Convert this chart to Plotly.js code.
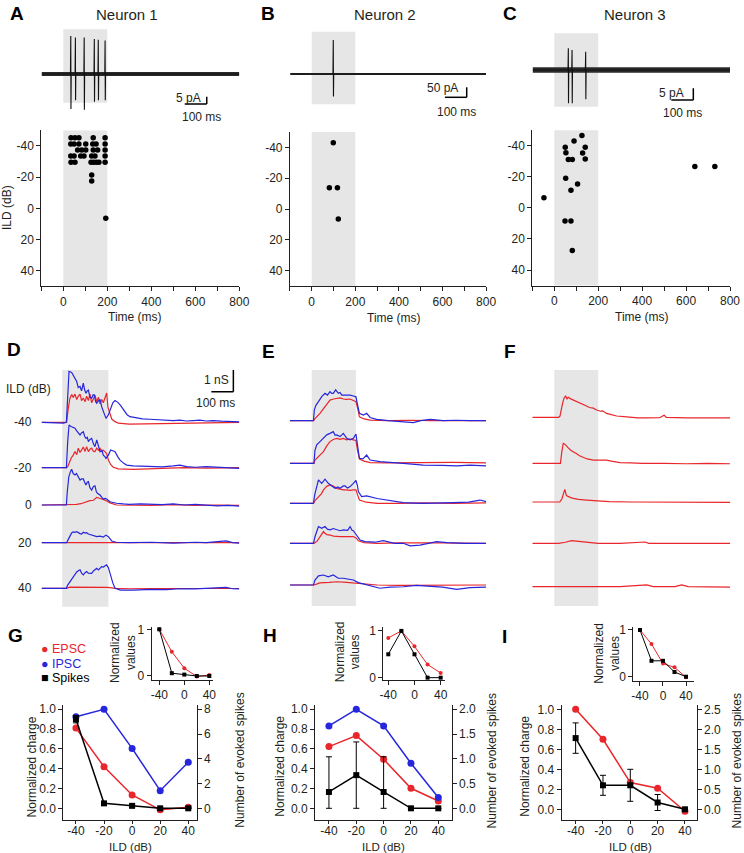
<!DOCTYPE html>
<html><head><meta charset="utf-8">
<script src="https://cdn.plot.ly/plotly-3.0.1.min.js"></script>
<style>html,body{margin:0;padding:0;background:#fff}#chart{width:744px;height:853px}</style>
</head><body><div id="chart"></div>
<script>
// ================= DATA =================
// A-C: spike recordings (ms, pA)
const spikeTimesA = [34, 55, 95, 141, 159, 190];
const spikeUpA    = [26, 25, 25, 24, 23.5, 23];
const spikeDownA  = [24, 18, 24.5, 19, 18, 18];
const spikeTimesB = [99];
const spikeUpB    = [170];
const spikeDownB  = [113];
const spikeTimesC = [64, 81, 143];
const spikeUpC    = [9.3, 8.5, 7.8];
const spikeDownC  = [14.2, 14.2, 12.5];

// Rasters: spike time (ms) and ILD row (dB)
const rasterA_t   = [35,53,71,136,190, 34,49,71,102,134,149,190, 65,84,102,136,156,190, 34,49,79,94,129,144,190, 35,53,126,138,150,162,190, 129, 129, 193];
const rasterA_ild = [-45.3,-45.3,-45.3,-45.3,-45.3, -41.3,-41.3,-41.3,-41.3,-41.3,-41.3,-41.3, -37.4,-37.4,-37.4,-37.4,-37.4,-37.4, -33.6,-33.6,-33.6,-33.6,-33.6,-33.6,-33.6, -29.5,-29.5,-29.5,-29.5,-29.5,-29.5,-29.5, -21.4, -17.6, 6.3];
const rasterB_t   = [99, 81, 118, 122];
const rasterB_ild = [-43, -13.8, -13.8, 6.5];
const rasterC_t   = [-47, 50, 53, 64, 82, 90, 126, 129, 141, 141, 52, 106, 76, 49, 76, 82, 640, 731];
const rasterC_ild = [-6.5, -39.1, -35.5, -31.2, -31.2, -43, -46.6, -35.3, -39.1, -31.4, -19, -15.3, -11.3, 8.5, 8.5, 27.4, -26.7, -26.7];

const stimWindow = [0, 200];           // ms (grey band)
const ildRows = [-40, -20, 0, 20, 40];  // dB, D-F rows

// D: conductance traces [ms, nS]
const D_ipsc_m40 = [[-98,0],[0,-0.04],[14,0],[20,1.6],[26,2.35],[38,2.3],[48,2.1],[55,2.0],[61,1.88],[68,1.6],[76,1.65],[83,1.45],[91,1.8],[97,1.5],[103,1.34],[109,1.45],[114,1.49],[121,1.15],[129,1.11],[135,1.26],[141,1.26],[147,0.95],[152,0.88],[160,1.0],[167,1.03],[175,0.7],[185,0.45],[194,0.18],[205,0.35],[215,0.65],[225,0.9],[235,1.0],[248,0.92],[260,0.78],[275,0.55],[290,0.35],[303,0.26],[330,0.2],[360,0.16],[394,0.14],[430,0.12],[470,0.1],[500,0.08],[530,0.1],[560,0.06],[590,0.08],[620,0.1],[650,0.06],[680,0.08],[720,0.05],[760,0.04],[800,0.02]];
const D_epsc_m40 = [[-98,0],[15,0],[22,0.6],[30,1.1],[38,1.28],[45,1.15],[53,1.3],[61,1.05],[68,1.2],[76,1.3],[83,1.0],[91,1.12],[99,0.95],[106,1.2],[114,1.0],[121,1.3],[129,0.9],[137,1.1],[144,1.25],[152,0.95],[160,1.15],[167,0.85],[175,1.05],[182,0.9],[190,1.2],[197,1.35],[203,0.7],[212,0.35],[220,0.15],[235,0.03],[250,-0.04],[300,-0.08],[400,-0.07],[500,-0.05],[600,-0.03],[700,-0.02],[800,0]];
const D_ipsc_m20 = [[-98,0],[14,0],[20,1.2],[26,1.97],[35,1.9],[45,1.85],[53,1.82],[61,1.7],[68,1.6],[76,1.51],[83,1.6],[91,1.66],[97,1.45],[103,1.35],[109,1.4],[114,1.2],[121,1.3],[129,1.35],[137,1.1],[144,0.97],[152,1.28],[160,0.95],[167,0.74],[175,0.8],[182,0.58],[190,0.5],[194,0.43],[205,0.58],[215,0.82],[225,0.78],[235,0.74],[248,0.5],[258,0.35],[275,0.2],[288,0.12],[318,0.08],[360,0.06],[400,0.05],[450,0.04],[500,0.08],[530,0.12],[560,0.05],[600,0.02],[650,0.05],[700,0.02],[750,-0.02],[800,-0.03]];
const D_epsc_m20 = [[-98,0],[15,0],[20,0.05],[28,0.3],[36,0.45],[45,0.58],[53,0.75],[61,0.6],[68,0.9],[76,0.7],[83,0.82],[91,0.95],[99,0.75],[106,0.97],[114,0.74],[121,0.85],[129,0.9],[137,0.75],[144,0.74],[152,0.9],[160,0.8],[167,0.89],[175,0.75],[182,0.8],[189,0.74],[197,0.65],[205,0.35],[215,0.15],[227,0.02],[250,-0.05],[318,-0.08],[400,-0.06],[470,-0.03],[550,0.0],[650,-0.02],[800,0]];
const D_ipsc_0 = [[-98,0],[14,0],[18,0.6],[25,1.3],[33,1.55],[38,1.65],[45,1.45],[53,1.38],[60,1.45],[68,1.3],[76,1.15],[83,1.2],[91,1.2],[97,1.05],[103,0.92],[109,1.05],[114,1.08],[121,0.8],[129,0.69],[137,0.85],[144,0.88],[150,0.62],[155,0.54],[167,0.46],[175,0.35],[182,0.26],[190,0.3],[197,0.28],[212,0.15],[242,0.08],[273,0.05],[300,0.03],[350,0.05],[400,0.04],[450,0.02],[500,0.05],[550,0.0],[600,0.03],[650,-0.02],[700,-0.04],[750,-0.02],[800,-0.05]];
const D_epsc_0 = [[-98,0],[15,0],[60,0.03],[80,0.06],[91,0.1],[106,0.12],[121,0.2],[137,0.22],[152,0.35],[167,0.3],[182,0.26],[197,0.18],[212,0.1],[242,0.0],[300,0.0],[400,-0.02],[500,0.02],[600,-0.02],[700,0.0],[800,-0.02]];
const D_ipsc_20 = [[-98,0],[15,0],[25,0.2],[33,0.4],[38,0.45],[45,0.5],[53,0.48],[61,0.51],[68,0.45],[76,0.42],[83,0.4],[91,0.48],[99,0.44],[106,0.46],[114,0.4],[121,0.38],[129,0.35],[137,0.32],[152,0.28],[167,0.3],[182,0.26],[194,0.35],[205,0.28],[220,0.08],[240,0.02],[300,0.0],[400,0.02],[500,-0.02],[600,0.02],[650,0.0],[700,0.03],[740,0.08],[770,0.0],[800,-0.02]];
const D_epsc_20 = [[-98,0],[15,0],[100,0.02],[200,0.02],[300,-0.01],[400,0.01],[500,-0.01],[600,0.01],[700,0],[800,0]];
const D_ipsc_40 = [[-98,0],[14,0],[20,0.15],[30,0.3],[38,0.38],[50,0.55],[61,0.75],[70,0.82],[76,0.85],[83,0.7],[91,0.62],[99,0.72],[106,0.77],[114,0.7],[121,0.68],[129,0.69],[137,0.8],[144,0.85],[152,0.92],[160,0.85],[167,0.95],[174,1.0],[182,0.98],[190,1.05],[197,1.08],[205,0.95],[212,0.69],[225,0.25],[235,0.0],[260,-0.08],[318,-0.08],[400,-0.05],[470,-0.06],[530,-0.02],[600,-0.03],[650,-0.01],[700,0.02],[740,0.04],[770,-0.02],[800,-0.03]];
const D_epsc_40 = [[-98,0],[15,0],[30,0.05],[100,0.05],[200,0.04],[240,0.0],[300,-0.02],[400,-0.01],[500,-0.01],[600,0],[700,0],[800,-0.01]];

// E
const E_ipsc_m40 = [[-100,0],[8,0],[12,0.5],[20,0.72],[31,0.88],[46,1.11],[61,1.26],[72,1.18],[84,1.34],[92,1.26],[99,1.26],[110,1.42],[122,1.26],[130,1.3],[138,1.18],[157,1.18],[176,1.18],[191,1.14],[200,1.12],[203,1.1],[209,0.8],[219,0.34],[237,0.26],[252,0.34],[268,0.15],[298,0.06],[350,0.0],[420,-0.05],[466,-0.09],[500,0.0],[543,0.06],[604,0.0],[660,0.02],[726,0.0],[800,0]];
const E_epsc_m40 = [[-100,0],[8,0],[15,0.1],[25,0.2],[38,0.34],[50,0.5],[61,0.65],[72,0.8],[84,0.95],[100,1.0],[115,1.03],[130,1.05],[145,1.0],[160,0.98],[176,1.0],[191,0.92],[203,0.88],[210,0.6],[219,0.18],[240,0.08],[268,0.03],[350,0.0],[450,0.02],[550,0.0],[650,0.01],[800,0]];
const E_ipsc_m20 = [[-100,0],[10,0],[15,0.6],[23,0.85],[38,1.0],[54,1.15],[69,1.31],[84,1.38],[99,1.46],[107,1.3],[115,1.31],[130,1.23],[145,1.38],[161,1.15],[176,1.08],[191,1.15],[203,1.35],[211,0.77],[219,0.23],[235,0.2],[252,0.38],[268,0.15],[313,0.08],[420,0.0],[512,-0.08],[600,-0.1],[665,-0.12],[726,-0.08],[800,-0.12]];
const E_epsc_m20 = [[-100,0],[10,0],[15,0.15],[30,0.3],[45,0.45],[54,0.54],[69,0.8],[84,1.0],[99,1.1],[115,1.15],[130,1.1],[145,1.15],[160,1.08],[176,1.12],[191,1.08],[203,1.05],[210,0.6],[219,0.2],[240,0.1],[268,0.03],[350,0.02],[450,0.03],[550,0.05],[650,0.04],[800,0.02]];
const E_ipsc_0 = [[-100,0],[8,0],[14,0.4],[20,0.62],[31,1.08],[46,0.92],[61,1.11],[76,0.92],[92,0.8],[107,0.69],[120,0.75],[130,0.69],[145,0.8],[153,0.8],[165,0.7],[176,0.77],[191,0.92],[203,1.05],[210,0.8],[214,0.54],[229,0.31],[252,0.34],[300,0.22],[344,0.15],[420,0.03],[500,0.0],[573,0.0],[650,0.03],[720,0.05],[772,0.15],[800,0.08]];
const E_epsc_0 = [[-100,0],[8,0],[15,0.12],[30,0.3],[45,0.45],[54,0.62],[69,0.78],[84,0.85],[99,0.8],[115,0.69],[130,0.65],[145,0.62],[160,0.62],[176,0.6],[191,0.62],[203,0.62],[210,0.4],[219,0.15],[250,0.05],[300,0.0],[400,0.0],[500,0.02],[650,0.0],[800,0.02]];
const E_ipsc_20 = [[-100,0],[8,0],[15,0.3],[25,0.6],[31,0.77],[46,0.69],[61,0.77],[72,0.65],[84,0.62],[99,0.68],[107,0.65],[120,0.6],[130,0.58],[145,0.62],[153,0.62],[165,0.6],[176,0.77],[185,0.6],[191,0.58],[203,0.43],[222,0.15],[245,0.08],[290,0.05],[329,0.12],[380,0.0],[420,0.0],[451,-0.12],[497,-0.08],[573,0.08],[620,0.03],[700,0.0],[800,0.0]];
const E_epsc_20 = [[-100,0],[10,0],[25,0.1],[38,0.3],[54,0.54],[62,0.45],[70,0.4],[84,0.38],[100,0.33],[130,0.31],[160,0.3],[191,0.31],[203,0.25],[214,0.12],[240,0.03],[300,0.0],[400,0.02],[500,0.03],[600,0.02],[800,0.0]];
const E_ipsc_40 = [[-100,0],[8,0],[15,0.23],[31,0.42],[54,0.46],[76,0.38],[99,0.46],[122,0.31],[145,0.31],[176,0.26],[191,0.23],[214,0.11],[237,0.05],[280,-0.05],[313,-0.15],[360,-0.1],[420,-0.08],[480,-0.02],[543,-0.05],[600,-0.1],[665,-0.2],[726,-0.12],[800,-0.1]];
const E_epsc_40 = [[-100,0],[10,0],[25,0.05],[38,0.1],[80,0.12],[115,0.15],[160,0.12],[191,0.1],[230,0.05],[300,0.0],[400,-0.02],[500,-0.01],[600,0.0],[700,0.01],[800,0.0]];

// F (EPSC only)
const F_epsc_m40 = [[-100,0],[20,0],[26,0.05],[32,0.4],[38,0.65],[45,0.9],[52,0.98],[58,0.85],[64,0.92],[75,0.85],[87,0.8],[100,0.75],[117,0.68],[125,0.62],[135,0.6],[147,0.52],[160,0.45],[178,0.42],[190,0.35],[200,0.31],[210,0.28],[220,0.3],[238,0.18],[260,0.12],[284,0.06],[330,0.02],[380,-0.03],[421,-0.03],[480,-0.02],[500,0.1],[510,0.0],[600,-0.03],[700,-0.02],[800,-0.03]];
const F_epsc_m20 = [[-100,0],[28,0],[34,0.5],[41,0.92],[48,0.88],[56,0.77],[65,0.7],[75,0.6],[87,0.54],[100,0.45],[115,0.35],[132,0.28],[150,0.2],[178,0.15],[200,0.14],[220,0.15],[238,0.15],[260,0.1],[299,0.03],[350,0.02],[400,0.0],[500,0.0],[600,-0.02],[700,0.0],[800,-0.02]];
const F_epsc_0 = [[-100,0],[25,0],[35,0.15],[41,0.32],[48,0.58],[55,0.3],[64,0.25],[75,0.2],[87,0.17],[110,0.12],[147,0.09],[200,0.05],[250,0.02],[350,0.0],[450,0.0],[550,-0.02],[650,0.0],[800,-0.02]];
const F_epsc_20 = [[-100,0],[20,0],[50,0.05],[79,0.12],[100,0.1],[117,0.08],[150,0.05],[200,0.0],[300,0.0],[413,0.06],[430,0.0],[600,0.0],[800,0.0]];
const F_epsc_40 = [[-100,0],[100,0],[200,0.0],[300,0.0],[421,0.08],[450,0.0],[550,0.0],[580,0.08],[610,0.0],[800,-0.02]];

// G-I: tuning (ILD in dB)
const ild = [-40, -20, 0, 20, 40];
const epscG = [0.81, 0.42, 0.135, -0.015, 0.01];
const ipscG = [0.925, 1.0, 0.605, 0.178, 0.465];
const spikesG = [7.2, 0.4, 0.2, 0, 0];
const spikesGerr = [0.3, 0.15, 0.1, 0, 0];
const epscGnorm = [1, 0.52, 0.165, -0.01, 0.02];
const spikesGnorm = [1, 0.06, 0.03, 0, 0];

const epscH = [0.623, 0.734, 0.495, 0.202, 0.074];
const ipscH = [0.832, 1.0, 0.832, 0.455, 0.11];
const spikesH = [0.33, 0.67, 0.33, 0, 0];
const spikesHerrPlus = [0.71, 0.67, 0.71, 0, 0];
const spikesHerrMinus = [0.33, 0.67, 0.33, 0, 0];
const epscHnorm = [0.85, 1, 0.67, 0.28, 0.1];
const spikesHnorm = [0.5, 1, 0.5, 0, 0];

const epscI = [1.0, 0.70, 0.267, 0.21, -0.02];
const spikesI = [1.78, 0.6, 0.6, 0.17, 0];
const spikesIerr = [0.38, 0.25, 0.4, 0.2, 0];
const epscInorm = [1, 0.7, 0.28, 0.2, -0.01];
const spikesInorm = [1, 0.34, 0.34, 0.1, 0];

// ================= LAYOUT HELPERS =================
const W = 744, H = 853;
const FONT = 'Liberation Sans, Arial, sans-serif';
const INK = '#231f20', RED = '#e8262b', BLUE = '#2626dc', GRAY = '#e6e6e6';
const X = px => px / W;
const Y = py => 1 - py / H;
const tx = p => p.map(d => d[0]);
const ty = p => p.map(d => d[1]);

const layout = {
  width: W, height: H, margin: {l:0, r:0, t:0, b:0},
  paper_bgcolor: '#fff', plot_bgcolor: 'rgba(0,0,0,0)',
  showlegend: false, hovermode: false,
  font: {family: FONT, size: 12, color: INK},
  shapes: [], annotations: []
};
const traces = [];
let nx = 0, ny = 0;
function newX(domPx, range, opts) {
  nx++; const id = nx === 1 ? 'x' : 'x' + nx;
  layout[nx === 1 ? 'xaxis' : 'xaxis' + nx] = Object.assign({domain: [X(domPx[0]), X(domPx[1])], range, showgrid:false, zeroline:false, fixedrange:true}, opts);
  return id;
}
function newY(domPx, range, opts) {
  ny++; const id = ny === 1 ? 'y' : 'y' + ny;
  layout[ny === 1 ? 'yaxis' : 'yaxis' + ny] = Object.assign({domain: [Y(domPx[1]), Y(domPx[0])], range, showgrid:false, zeroline:false, fixedrange:true}, opts);
  return id;
}
const axName = id => (id[0] === 'x' ? 'xaxis' : 'yaxis') + id.slice(1);
function link(xid, yid) { layout[axName(xid)].anchor = yid; layout[axName(yid)].anchor = xid; }
function style(extra) {
  return Object.assign({visible:true, showline:true, linecolor:INK, linewidth:1, ticks:'outside', ticklen:4, tickwidth:1, tickcolor:INK,
    tickfont:{size:12, color:INK, family:FONT}, automargin:false}, extra);
}
const HID = {visible:false};
const lbl = v => String(v).replace('\u2212', '-');
function arrTicks(vals, shown, fmt) {
  return {tickmode:'array', tickvals: vals, ticktext: vals.map(v => (shown ? shown(v) : true) ? (fmt ? fmt(v) : lbl(v)) : '')};
}
function ann(text, px, py, o) {
  const a = Object.assign({text, x:X(px), y:Y(py), xref:'paper', yref:'paper', showarrow:false, xanchor:'center', yanchor:'middle'}, o || {});
  a.font = Object.assign({size:12, color:INK, family:FONT}, (o && o.font) || {});
  layout.annotations.push(a);
}
function grayBox(xid, x0, x1, pyTop, pyBot) {
  layout.shapes.push({type:'rect', xref:xid, yref:'paper', x0, x1, y0:Y(pyBot), y1:Y(pyTop), fillcolor:GRAY, line:{width:0}, layer:'below'});
}
function bar(xid, yid, x0, y0, x1, y1) {
  layout.shapes.push({type:'line', xref:xid, yref:yid, x0, y0, x1, y1, line:{color:'#000', width:1.5}});
}
function spikeTrace(times, up, down, xid, yid) {
  const xs = [-98], ys = [0];
  times.forEach((t, i) => { xs.push(t - 1.5, t, t + 0.8, t + 2); ys.push(0, up[i], -down[i], 0); });
  xs.push(800); ys.push(0);
  return {type:'scatter', mode:'lines', x:xs, y:ys, xaxis:xid, yaxis:yid, line:{color:'#111', width:1.1}, hoverinfo:'skip'};
}
function baseTrace(xid, yid, w) {
  return {type:'scatter', mode:'lines', x:[-98, 800], y:[0, 0], xaxis:xid, yaxis:yid, line:{color:'#2a2a2a', width:w}, hoverinfo:'skip'};
}

// ================= PANELS A-C =================
const timeTicks = [-100,0,100,200,300,400,500,600,700,800];
const cols = [
  {name:'A', title:'Neuron 1', xdom:[41.3,239.3], ydom:[130.4,286.3], letter:[17,13], tit:[127,15],
   top:{base:74, ppu:1.46, noise:4}, times:spikeTimesA, up:spikeUpA, down:spikeDownA, rt:rasterA_t, ri:rasterA_ild,
   scale:{x1:652, ybot:-20.5, v:5, txt:'5 pA', txtPos:[188,98], msPos:[201,116.7]}, timeLbl:[135,316.7], topGray:[29.3,102.7]},
  {name:'B', title:'Neuron 2', xdom:[289.9,486.1], ydom:[131.9,286.1], letter:[268.3,13.3], tit:[385,15],
   top:{base:74, ppu:0.2, noise:1.8}, times:spikeTimesB, up:spikeUpB, down:spikeDownB, rt:rasterB_t, ri:rasterB_ild,
   scale:{x1:711, ybot:-116.5, v:50, txt:'50 pA', txtPos:[442.5,88.3], msPos:[456,111.7]}, timeLbl:[394,318.3], topGray:[31.7,104.3]},
  {name:'C', title:'Neuron 3', xdom:[532.3,730.0], ydom:[130.2,285.6], letter:[510,13.3], tit:[635,15],
   top:{base:70, ppu:2.34, noise:5.5}, times:spikeTimesC, up:spikeUpC, down:spikeDownC, rt:rasterC_t, ri:rasterC_ild,
   scale:{x1:633, ybot:-12.8, v:5, txt:'5 pA', txtPos:[671.7,93], msPos:[682.5,113.3]}, timeLbl:[641.7,316.7], topGray:[33.3,106.7]}
];
cols.forEach(c => {
  // top recording
  const tTop = 25, tBot = 112;
  const xt = newX(c.xdom, [-100, 800], HID);
  const yt = newY([tTop, tBot], [-(tBot - c.top.base) / c.top.ppu, (c.top.base - tTop) / c.top.ppu], HID);
  link(xt, yt);
  traces.push(baseTrace(xt, yt, c.top.noise));
  traces.push(spikeTrace(c.times, c.up, c.down, xt, yt));
  grayBox(xt, stimWindow[0], stimWindow[1], c.topGray[0], c.topGray[1]);
  bar(xt, yt, c.scale.x1 - 100, c.scale.ybot, c.scale.x1, c.scale.ybot);
  bar(xt, yt, c.scale.x1, c.scale.ybot, c.scale.x1, c.scale.ybot + c.scale.v);
  ann(c.scale.txt, c.scale.txtPos[0], c.scale.txtPos[1]);
  ann('100 ms', c.scale.msPos[0], c.scale.msPos[1]);
  // raster
  const xr = newX(c.xdom, [-100, 800], style(arrTicks(timeTicks, v => v % 200 === 0)));
  const yr = newY(c.ydom, [50, -50], style(arrTicks([-40,-20,0,20,40])));
  link(xr, yr);
  traces.push({type:'scatter', mode:'markers', x:c.rt, y:c.ri, xaxis:xr, yaxis:yr, marker:{color:'#000', size:5.5}, cliponaxis:false, hoverinfo:'skip'});
  grayBox(xr, stimWindow[0], stimWindow[1], c.ydom[0], c.ydom[1]);
  ann('<b>' + c.name + '</b>', c.letter[0], c.letter[1], {font:{size:19, color:'#000'}});
  ann(c.title, c.tit[0], c.tit[1], {font:{size:15}});
  ann('Time (ms)', c.timeLbl[0], c.timeLbl[1]);
});
ann('ILD (dB)', 7, 208, {textangle:-90});

// ================= PANELS D-F =================
const PPU = 21.7; // px per nS
const rowPanels = [
  {name:'D', letter:[14,350], xdom:cols[0].xdom, bases:[422.3,467.7,505,542.7,588.3], gray:[370,606.7], stim:[-5,205],
   ipsc:[D_ipsc_m40,D_ipsc_m20,D_ipsc_0,D_ipsc_20,D_ipsc_40], epsc:[D_epsc_m40,D_epsc_m20,D_epsc_0,D_epsc_20,D_epsc_40]},
  {name:'E', letter:[268.3,351.7], xdom:cols[1].xdom, bases:[420.7,463.3,503.3,543.3,585], gray:[370,606], stim:[0,203],
   ipsc:[E_ipsc_m40,E_ipsc_m20,E_ipsc_0,E_ipsc_20,E_ipsc_40], epsc:[E_epsc_m40,E_epsc_m20,E_epsc_0,E_epsc_20,E_epsc_40]},
  {name:'F', letter:[510,351.7], xdom:cols[2].xdom, bases:[417.3,463.3,502,543.3,586.7], gray:[370,606], stim:[0,200],
   ipsc:null, epsc:[F_epsc_m40,F_epsc_m20,F_epsc_0,F_epsc_20,F_epsc_40]}
];
rowPanels.forEach(p => {
  const xid = newX(p.xdom, [-100, 800], HID);
  let firstY = null;
  p.bases.forEach((b, i) => {
    const top = b - 60, bot = b + 12;
    const yid = newY([top, bot], [-(bot - b) / PPU, (b - top) / PPU], HID);
    layout[axName(yid)].anchor = xid;
    if (!firstY) { firstY = yid; layout[axName(xid)].anchor = yid; }
    traces.push({type:'scatter', mode:'lines', x:tx(p.epsc[i]), y:ty(p.epsc[i]), xaxis:xid, yaxis:yid, line:{color:RED, width:1.2}, hoverinfo:'skip'});
    if (p.ipsc) traces.push({type:'scatter', mode:'lines', x:tx(p.ipsc[i]), y:ty(p.ipsc[i]), xaxis:xid, yaxis:yid, line:{color:BLUE, width:1.2}, hoverinfo:'skip'});
    if (p.name === 'D') {
      if (i === 0) {
        bar(xid, yid, 673, 1.41, 773, 1.41);
        bar(xid, yid, 773, 1.41, 773, 2.41);
      }
      ann(lbl(ildRows[i]), 33.5, b, {xanchor:'right'});
    }
  });
  grayBox(xid, p.stim[0], p.stim[1], p.gray[0], p.gray[1]);
  ann('<b>' + p.name + '</b>', p.letter[0], p.letter[1], {font:{size:19, color:'#000'}});
});
ann('ILD (dB)', 28, 389.3);
ann('1 nS', 216, 380);
ann('100 ms', 215, 403.3);

// ================= PANELS G-I =================
const ildTicks = [-40,-20,0,20,40];
const chargeTicks = [0,0.2,0.4,0.6,0.8,1.0];
const tunings = [
  {name:'G', letter:[15,635], xdom:[63.3,196.7], xr:[-49,46], yr:[-0.118,1.043], rr:8, rticks:[0,2,4,6,8], rfmt:v => String(v),
   epsc:epscG, ipsc:ipscG, spk:spikesG, errP:spikesGerr, errM:spikesGerr,
   inset:{xdom:[151.7,213.3], ydom:[626.7,680], xr:[-52.2,46.4], yr:[-0.086,1.056], epsc:epscGnorm, spk:spikesGnorm, title:[123,653]},
   titles:{left:31.7, right:240, ild:130}},
  {name:'H', letter:[270,635], xdom:[315,451.7], xr:[-50.2,49.8], yr:[-0.118,1.043], rr:2, rticks:[0,0.5,1.0,1.5,2.0], rfmt:v => v.toFixed(1),
   epsc:epscH, ipsc:ipscH, spk:spikesH, errP:spikesHerrPlus, errM:spikesHerrMinus,
   inset:{xdom:[383.3,445], ydom:[626.7,680], xr:[-47.6,46.6], yr:[-0.05,1.09], epsc:epscHnorm, spk:spikesHnorm, title:[347.5,651.7]},
   titles:{left:280, right:491.7, ild:383.3}},
  {name:'I', letter:[505,636.7], xdom:[561.7,696.7], xr:[-50.2,48.6], yr:[-0.107,1.043], rr:2.5, rticks:[0,0.5,1.0,1.5,2.0,2.5], rfmt:v => v.toFixed(1),
   epsc:epscI, ipsc:null, spk:spikesI, errP:spikesIerr, errM:spikesIerr,
   inset:{xdom:[633.3,694.3], ydom:[626.7,681], xr:[-51.6,54.4], yr:[-0.092,1.07], epsc:epscInorm, spk:spikesInorm, title:[607.5,653.3]},
   titles:{left:525, right:736.7, ild:630}}
];
tunings.forEach(g => {
  const xid = newX(g.xdom, g.xr, style(Object.assign(arrTicks(ildTicks), {ticklen:3, ticklabelstandoff:-3})));
  const yid = newY([705, 820], g.yr, style(arrTicks(chargeTicks, null, v => v.toFixed(1))));
  link(xid, yid);
  const yr = newY([705, 820], [g.yr[0] * g.rr, g.yr[1] * g.rr], style(Object.assign(arrTicks(g.rticks, null, g.rfmt), {side:'right', overlaying:yid, anchor:xid})));
  traces.push({type:'scatter', mode:'lines+markers', x:ild, y:g.epsc, xaxis:xid, yaxis:yid, line:{color:RED, width:1.5}, marker:{color:RED, size:7}, cliponaxis:false, hoverinfo:'skip'});
  if (g.ipsc) traces.push({type:'scatter', mode:'lines+markers', x:ild, y:g.ipsc, xaxis:xid, yaxis:yid, line:{color:BLUE, width:1.5}, marker:{color:BLUE, size:7}, cliponaxis:false, hoverinfo:'skip'});
  traces.push({type:'scatter', mode:'lines+markers', x:ild, y:g.spk, xaxis:xid, yaxis:yr, line:{color:'#000', width:1.5}, marker:{color:'#000', size:6, symbol:'square'},
    error_y:{type:'data', symmetric:false, array:g.errP, arrayminus:g.errM, color:'#000', thickness:1, width:3}, cliponaxis:false, hoverinfo:'skip'});
  // inset
  const ix = newX(g.inset.xdom, g.inset.xr, style(arrTicks([-40,0,40])));
  const iy = newY(g.inset.ydom, g.inset.yr, style(arrTicks([0,1])));
  link(ix, iy);
  traces.push({type:'scatter', mode:'lines+markers', x:ild, y:g.inset.epsc, xaxis:ix, yaxis:iy, line:{color:RED, width:1}, marker:{color:RED, size:4}, cliponaxis:false, hoverinfo:'skip'});
  traces.push({type:'scatter', mode:'lines+markers', x:ild, y:g.inset.spk, xaxis:ix, yaxis:iy, line:{color:'#000', width:1}, marker:{color:'#000', size:4, symbol:'square'}, cliponaxis:false, hoverinfo:'skip'});
  ann('Normalized<br>values', g.inset.title[0], g.inset.title[1], {textangle:-90});
  ann('<b>' + g.name + '</b>', g.letter[0], g.letter[1], {font:{size:19, color:'#000'}});
  ann('Normalized charge', g.titles.left, 766.7, {textangle:-90});
  ann('Number of evoked spikes', g.titles.right, 760.7, {textangle:-90});
  ann('ILD (dB)', g.titles.ild, 846.5, {font:{size:11.5}});
});
// legend (panel G)
ann('● EPSC', 39, 649.3, {xanchor:'left', font:{color:RED, size:12.5}});
ann('● IPSC', 39, 664, {xanchor:'left', font:{color:BLUE, size:12.5}});
ann('■ Spikes', 39, 678.3, {xanchor:'left', font:{color:'#000', size:12.5}});

Plotly.newPlot('chart', traces, layout, {staticPlot:true, displayModeBar:false});
</script>
</body></html>
